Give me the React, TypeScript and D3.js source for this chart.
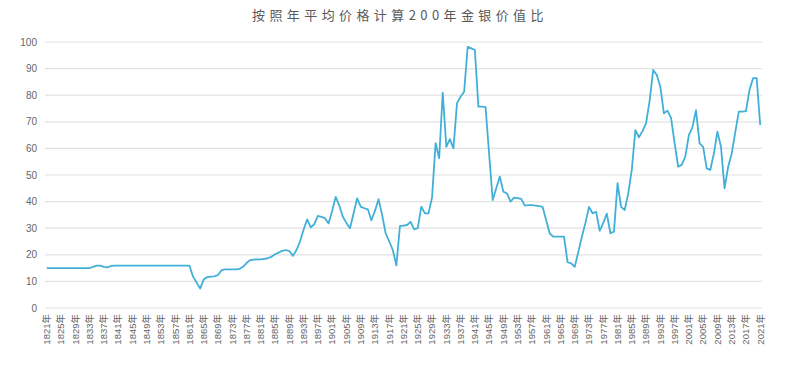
import React from 'react'
import * as d3 from 'd3'

// 金银价值比（按年平均价格）
const years = d3.range(1821, 2022)
const ratio = [
  15.0, 15.0, 15.0, 15.0, 15.0, 15.0, 15.0, 15.0, 15.0, 15.0, // 1821-1830
  15.0, 15.0, 15.0, 15.5, 15.9, 15.9, 15.5, 15.3, 15.8, 15.9, // 1831-1840
  15.9, 15.9, 15.9, 15.9, 15.9, 15.9, 15.9, 15.9, 15.9, 15.9, // 1841-1850
  15.9, 15.9, 15.9, 15.9, 15.9, 15.9, 15.9, 15.9, 15.9, 15.9, // 1851-1860
  15.9, 11.8, 9.6, 7.3, 10.8, 11.6, 11.8, 11.9, 12.4, 14.2, // 1861-1870
  14.5, 14.5, 14.5, 14.5, 14.7, 15.5, 16.9, 18.0, 18.2, 18.3, // 1871-1880
  18.3, 18.5, 18.7, 19.3, 20.2, 20.8, 21.5, 21.8, 21.4, 19.6, // 1881-1890
  21.8, 25.0, 29.5, 33.3, 30.3, 31.5, 34.6, 34.3, 33.7, 31.8, // 1891-1900
  36.5, 41.8, 38.5, 34.3, 32.0, 30.0, 35.5, 41.2, 38.1, 37.5, // 1901-1910
  37.1, 33.0, 36.5, 40.9, 35.0, 28.1, 25.0, 21.8, 16.0, 30.8, // 1911-1920
  31.0, 31.2, 32.4, 29.6, 30.0, 38.1, 35.6, 35.6, 41.5, 62.0, // 1921-1930
  56.3, 81.0, 60.6, 63.5, 60.0, 77.0, 79.4, 81.3, 98.2, 97.6, // 1931-1940
  97.0, 75.7, 75.7, 75.5, 58.0, 40.6, 45.0, 49.4, 43.7, 43.1, // 1941-1950
  40.0, 41.5, 41.3, 41.0, 38.5, 38.7, 38.7, 38.5, 38.3, 38.0, // 1951-1960
  33.0, 28.0, 26.8, 26.8, 26.8, 26.8, 17.2, 16.8, 15.5, 21.0, // 1961-1970
  26.8, 32.0, 38.0, 35.6, 36.2, 29.0, 32.0, 35.5, 28.1, 28.7, // 1971-1980
  46.9, 38.0, 36.8, 43.0, 52.0, 66.9, 64.2, 66.5, 69.4, 78.0, // 1981-1990
  89.5, 87.6, 83.2, 73.2, 74.2, 71.5, 62.0, 53.1, 53.8, 56.9, // 1991-2000
  65.0, 68.0, 74.4, 61.9, 60.6, 52.5, 51.9, 58.0, 66.3, 60.6, // 2001-2010
  45.0, 53.0, 58.0, 66.0, 73.8, 73.8, 74.0, 82.0, 86.4, 86.4, // 2011-2020
  68.8, // 2021
]
const yTicks = [0, 10, 20, 30, 40, 50, 60, 70, 80, 90, 100]
const xTickYears = years.filter((y) => (y - 1821) % 4 === 0)
const title = '按照年平均价格计算200年金银价值比'

const W = 788
const H = 370
const margin = { top: 42, right: 26, bottom: 62, left: 45 }
const font = '"Liberation Sans", Arial, "Noto Sans CJK SC", sans-serif'

export default function App() {
  const data = years.map((y, i) => ({ year: y, value: ratio[i] }))

  const x = d3.scaleBand<number>()
    .domain(years)
    .range([margin.left, W - margin.right])
  const cx = (y: number) => (x(y) ?? 0) + x.bandwidth() / 2
  const yScale = d3.scaleLinear()
    .domain([0, 100])
    .range([H - margin.bottom, margin.top])

  const line = d3.line<{ year: number; value: number }>()
    .x(d => cx(d.year))
    .y(d => yScale(d.value))

  return (
    <div style={{ position: 'absolute', left: 0, top: 0 }}>
      <svg width={W} height={H} style={{ display: 'block', background: '#fff' }}>
        <text
          x={W / 2 + 6}
          y={20}
          textAnchor="middle"
          fontSize={13}
          letterSpacing={4.4}
          fill="#595959"
          fontFamily='"Noto Sans CJK SC", sans-serif'
        >
          {title}
        </text>

        {yTicks.map(t => (
          <g key={t}>
            <line
              x1={margin.left}
              x2={W - margin.right}
              y1={yScale(t)}
              y2={yScale(t)}
              stroke="#e2e2e2"
              strokeWidth={1.2}
            />
            <text
              x={37}
              y={yScale(t)}
              dy="0.35em"
              textAnchor="end"
              fontSize={10}
              fill="#666"
              fontFamily={font}
            >
              {t}
            </text>
          </g>
        ))}

        {xTickYears.map(yr => (
          <text
            key={yr}
            transform={`translate(${cx(yr)},${yScale(0) + 6}) rotate(-90)`}
            dy="0.35em"
            textAnchor="end"
            fontSize={9.5}
            fill="#666"
            fontFamily={font}
          >
            {`${yr}年`}
          </text>
        ))}

        <path
          d={line(data) ?? ''}
          fill="none"
          stroke="#41b0d8"
          strokeWidth={1.8}
          strokeLinejoin="round"
        />
      </svg>
    </div>
  )
}
